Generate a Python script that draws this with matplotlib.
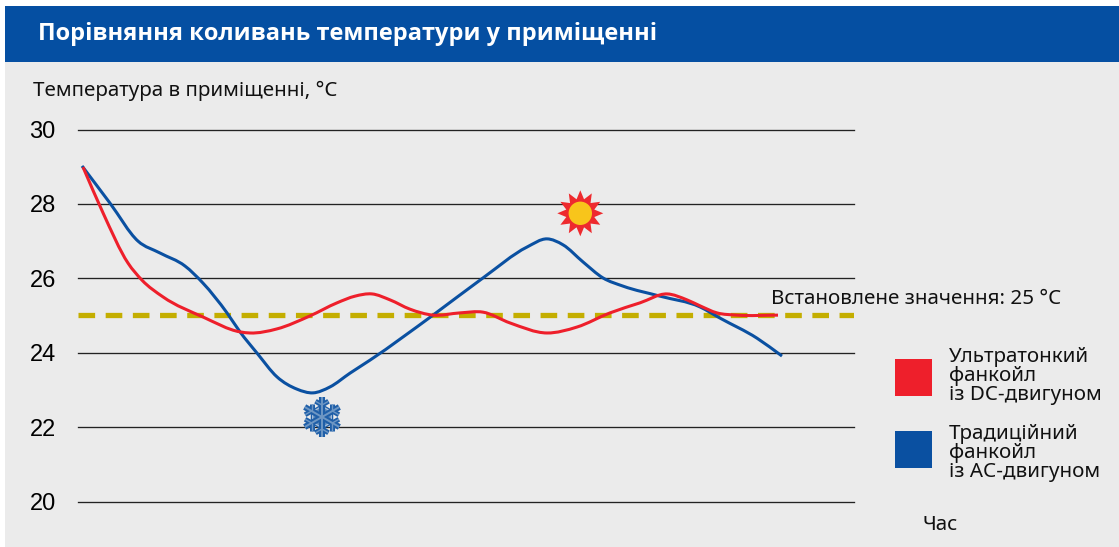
import numpy as np
import matplotlib
matplotlib.use('Agg')
import matplotlib.pyplot as plt
from matplotlib.patches import Rectangle, Polygon, Circle, PathPatch
from matplotlib.path import Path

# time axis has no units on the picture, so x is just position along the chart
blue_x = [82, 110, 138, 160, 185, 203, 227, 240, 257, 277, 297, 313, 330, 350, 370,
          433, 483, 527, 547, 563, 583, 603, 623, 660, 700, 720, 757, 782]
blue_t = [29.02, 28.02, 27.0, 26.68, 26.33, 25.87, 25.07, 24.56, 23.99, 23.35, 23.02, 22.92, 23.08, 23.45, 23.80,
          25.01, 26.01, 26.84, 27.06, 26.90, 26.44, 26.01, 25.79, 25.52, 25.23, 24.93, 24.39, 23.91]
red_x = [83, 103, 128, 142, 163, 203, 240, 250, 277, 310, 337, 355, 372, 390, 410,
         433, 460, 483, 510, 547, 577, 610, 640, 667, 687, 700, 717, 737, 778]
red_t = [28.99, 27.76, 26.41, 25.95, 25.50, 24.96, 24.56, 24.53, 24.64, 24.99, 25.34, 25.52, 25.58, 25.42, 25.17,
         25.01, 25.07, 25.09, 24.80, 24.53, 24.69, 25.07, 25.34, 25.58, 25.42, 25.26, 25.07, 25.01, 25.01]
setpoint = 25
y_ticks = [20, 22, 24, 26, 28, 30]

title = 'Порівняння коливань температури у приміщенні'
y_label = 'Температура в приміщенні, °C'
x_label = 'Час'
setpoint_label = 'Встановлене значення: 25 °C'
red_label = 'Ультратонкий\nфанкойл\nіз DC-двигуном'
blue_label = 'Традиційний\nфанкойл\nіз АС-двигуном'

BLUE = '#0A50A1'
RED = '#EE1F2B'
W, H = 1119, 547


def smooth_path(xs, ys):
    # bezier curve through the read points, the original line is a smoothed one
    x = np.array(xs, float)
    y = np.array(ys, float)
    m = np.gradient(y, x)
    verts = [(x[0], y[0])]
    for i in range(len(x) - 1):
        dx = (x[i + 1] - x[i]) / 3
        verts += [(x[i] + dx, y[i] + m[i] * dx), (x[i + 1] - dx, y[i + 1] - m[i + 1] * dx), (x[i + 1], y[i + 1])]
    codes = [Path.MOVETO] + [Path.CURVE4] * (len(verts) - 1)
    return Path(verts, codes)


fig = plt.figure(figsize=(W / 100, H / 100), dpi=100, facecolor='white')

# overlay in pixel coords for the header, legend and icons
bg = fig.add_axes([0, 0, 1, 1])
bg.set_xlim(0, W)
bg.set_ylim(H, 0)
bg.axis('off')
bg.add_patch(Rectangle((5, 62), W - 5, H - 62, color='#EBEBEB', lw=0))
bg.add_patch(Rectangle((5, 6), W - 5, 56, color='#054FA2', lw=0))

# main chart
ax = fig.add_axes([78 / W, (H - 501.5) / H, (854 - 78) / W, (501.5 - 129.5) / H])
ax.patch.set_alpha(0)
ax.set_xlim(78, 854)
ax.set_ylim(20, 30)
for s in ax.spines.values():
    s.set_visible(False)
ax.set_xticks([])
ax.set_yticks(y_ticks)
ax.tick_params(axis='y', length=0, pad=16, labelsize=17)
for lab in ax.get_yticklabels():
    lab.set_family('Liberation Sans')
for t in y_ticks:
    ax.axhline(t, color='#222222', lw=0.95, zorder=1, clip_on=False)
ax.plot([78, 854], [setpoint, setpoint], color='#C4AE00', lw=3.8, dashes=(3.15, 2),
        dash_capstyle='butt', zorder=2)
ax.add_patch(PathPatch(smooth_path(blue_x, blue_t), fill=False, edgecolor=BLUE, lw=2.2, capstyle='butt', zorder=3))
ax.add_patch(PathPatch(smooth_path(red_x, red_t), fill=False, edgecolor=RED, lw=2.2, capstyle='butt', zorder=4))

# top layer for text and icons
top = fig.add_axes([0, 0, 1, 1])
top.set_xlim(0, W)
top.set_ylim(H, 0)
top.axis('off')

top.text(38, 34.5, title, color='white', fontsize=17, fontweight='bold', family='Open Sans', va='center')
txt = dict(family='Noto Sans', color='#111111', va='center')
top.text(33, 91, y_label, fontsize=14.8, **txt)
top.text(771, 298.5, setpoint_label, fontsize=14.8, **txt)
top.text(923, 525.5, x_label, fontsize=14.8, **txt)
top.text(949, 376, red_label, fontsize=14.8, linespacing=0.95, **txt)
top.text(949, 453, blue_label, fontsize=14.8, linespacing=0.95, **txt)
top.add_patch(Rectangle((895, 359), 37, 37, color=RED, lw=0))
top.add_patch(Rectangle((895, 431), 37, 37, color=BLUE, lw=0))

# sun
cx, cy = 580.3, 213.3
ang = np.linspace(0, 2 * np.pi, 24, endpoint=False) + np.pi / 2
rad = np.where(np.arange(24) % 2 == 0, 23, 14.5)
top.add_patch(Polygon(np.c_[cx + rad * np.cos(ang), cy - rad * np.sin(ang)], color='#EE2A2E', lw=0))
top.add_patch(Circle((cx, cy), 11.7, color='#F8C51B', lw=0))

# snowflake
cx, cy = 322, 417
FLAKE = '#1F5FA8'
LIGHT = '#6E97C4'
for lw_arm, lw_branch, col in ((4.4, 3.6, FLAKE), (1.4, 1, LIGHT)):
    for a in np.deg2rad(np.arange(30, 390, 60)):
        ux, uy = np.cos(a), np.sin(a)
        top.plot([cx, cx + 20 * ux], [cy, cy + 20 * uy], color=col, lw=lw_arm, solid_capstyle='butt')
        for d in (-np.pi / 3, np.pi / 3):
            bx, by = cx + 12 * ux, cy + 12 * uy
            top.plot([bx, bx + 7.5 * np.cos(a + d)], [by, by + 7.5 * np.sin(a + d)], color=col, lw=lw_branch,
                     solid_capstyle='butt')
ang = np.deg2rad(np.arange(0, 360, 60) + 30)
top.add_patch(Polygon(np.c_[cx + 13 * np.cos(ang), cy + 13 * np.sin(ang)], color=FLAKE, lw=0))
top.add_patch(Polygon(np.c_[cx + 11.5 * np.cos(ang), cy + 11.5 * np.sin(ang)], color='#A9C1DC', lw=0))
top.add_patch(Polygon(np.c_[cx + 10 * np.cos(ang), cy + 10 * np.sin(ang)], color='#5C89BA', lw=0))

fig.savefig('out.png', dpi=100)
